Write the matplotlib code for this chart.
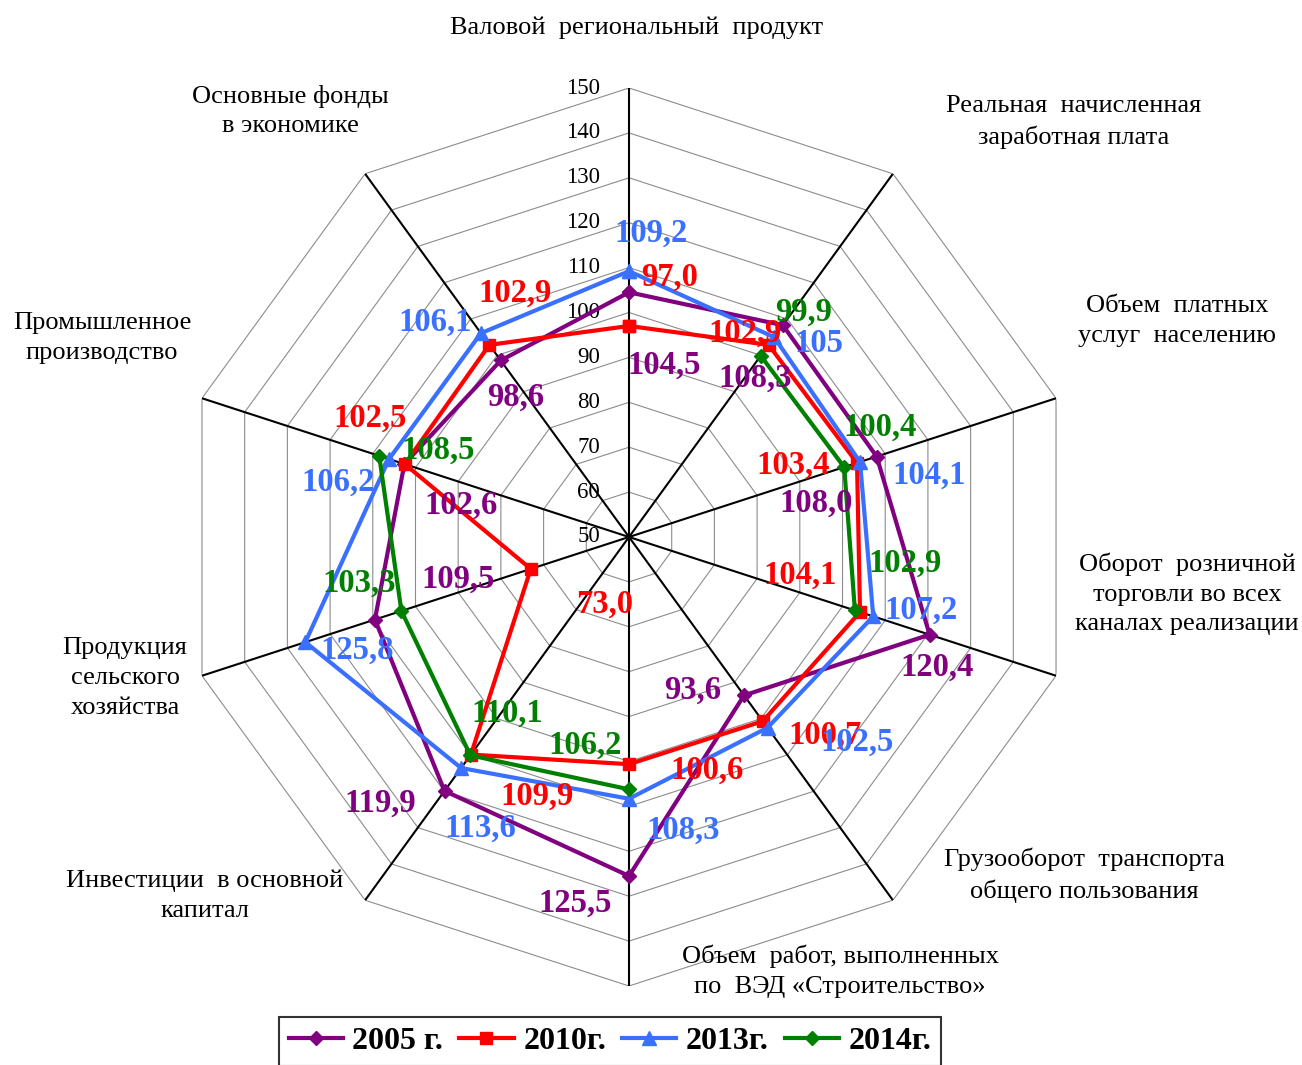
import numpy as np
import matplotlib
matplotlib.use("Agg")
import matplotlib.pyplot as plt

plt.rcParams["font.family"] = ["Liberation Serif", "DejaVu Serif"]

# ── Data ──
categories = [
    "Валовой  региональный  продукт",
    "Реальная  начисленная\nзаработная плата",
    "Объем  платных\nуслуг  населению",
    "Оборот  розничной\nторговли во всех\nканалах реализации",
    "Грузооборот  транспорта\nобщего пользования",
    "Объем  работ, выполненных\nпо  ВЭД «Строительство»",
    "Инвестиции  в основной\nкапитал",
    "Продукция\nсельского\nхозяйства",
    "Промышленное\nпроизводство",
    "Основные фонды\nв экономике",
]
nan = np.nan
v2005 = [104.5, 108.3, 108.0, 120.4, 93.6, 125.5, 119.9, 109.5, 102.6, 98.6]
v2010 = [97.0, 102.9, 103.4, 104.1, 100.7, 100.6, 109.9, 73.0, 102.5, 102.9]
v2013 = [109.2, 105.0, 104.1, 107.2, 102.5, 108.3, 113.6, 125.8, 106.2, 106.1]
v2014 = [nan, 99.9, 100.4, 102.9, nan, 106.2, 110.1, 103.3, 108.5, nan]
series_names = ["2005 г.", "2010г.", "2013г.", "2014г."]
rings = [50, 60, 70, 80, 90, 100, 110, 120, 130, 140, 150]

# ── Style ──
colors = ["#800080", "#ff0000", "#3a70ff", "#008000"]
markers = ["D", "s", "^", "D"]
msizes = [7, 8, 10, 7]

# label offsets in pixels (dx, dy) from each point
offsets = [
    [(35, -73), (-28, -53), (-61, -47), (7, -33), (-51, 5), (-54, -27),
     (-64, -12), (83, 40), (57, -41), (15, -37)],
    [(41, 49), (-24, 12), (-64, -2), (-60, 37), (62, -14), (78, -6),
     (66, -42), (74, -35), (-35, 46), (26, 52)],
    [(22, 38), (45, -6), (69, -13), (48, 6), (90, -15), (54, -31),
     (19, -60), (52, -8), (-51, -23), (-46, 11)],
    [None, (43, 43), (36, 40), (50, 47), None, (-44, 44),
     (37, 42), (-42, 28), (59, 6), None],
]

# category label centres (figure pixels)
cat_pos = [(637, 28), (1074, 122), (1177, 321), (1187, 594), (1084, 875),
           (840, 971), (205, 896), (125, 678), (102, 338), (290, 111)]

W, H = 1302, 1065
fig = plt.figure(figsize=(W / 100, H / 100), dpi=100)
cx, cy, R = 629, 537, 449
ax = fig.add_axes([(cx - R) / W, (H - cy - R) / H, 2 * R / W, 2 * R / H],
                  projection="polar")
ax.set_theta_offset(np.pi / 2)
ax.set_theta_direction(-1)
ax.set_ylim(50, 150)
ax.grid(False)
ax.set_xticks([])
ax.set_yticks([])
ax.spines["polar"].set_visible(False)
ax.patch.set_alpha(0)

n = len(categories)
angles = np.arange(n) * 2 * np.pi / n
closed = np.append(angles, angles[0])

# polygon rings
for r in rings[1:]:
    ax.plot(closed, [r] * (n + 1), color="#8c8c8c", lw=0.8, zorder=1)
# spokes
for a in angles:
    ax.plot([a, a], [50, 150], color="black", lw=1.5, zorder=2)

# ring values
for r in rings:
    ax.annotate(str(r), xy=(0, r), xytext=(-29, 0), textcoords="offset pixels",
                ha="right", va="center", fontsize=16.5, color="black", zorder=3)

all_series = [v2005, v2010, v2013, v2014]
handles = []
for vals, c, m, ms, offs, name in zip(all_series, colors, markers, msizes,
                                      offsets, series_names):
    vc = np.append(vals, vals[0])
    h, = ax.plot(closed, vc, color=c, lw=3, marker=m, markersize=ms,
                 label=name, zorder=4, clip_on=False)
    handles.append(h)
    for a, v, off in zip(angles, vals, offs):
        if np.isnan(v) or off is None:
            continue
        txt = f"{v:.1f}".replace(".", ",")
        if name == "2013г." and v == 105.0:
            txt = "105"
        ax.annotate(txt, xy=(a, v), xytext=off, textcoords="offset pixels",
                    ha="center", va="center", fontsize=23.5, fontweight="bold",
                    color=c, zorder=6)

for lab, (px, py) in zip(categories, cat_pos):
    fig.text(px / W, 1 - py / H, lab, ha="center", va="center",
             fontsize=19, linespacing=1.45, multialignment="center")

leg = fig.legend(handles=handles, loc="upper center", ncol=4,
                 bbox_to_anchor=(610 / W, 1 - 1017 / H), borderaxespad=0,
                 prop={"size": 23, "weight": "bold"},
                 frameon=True, fancybox=False, edgecolor="black",
                 handlelength=1.7, columnspacing=0.5, handletextpad=0.3,
                 borderpad=0.3)
leg.get_frame().set_linewidth(1.5)

fig.savefig("out.png", dpi=100, facecolor="white")
